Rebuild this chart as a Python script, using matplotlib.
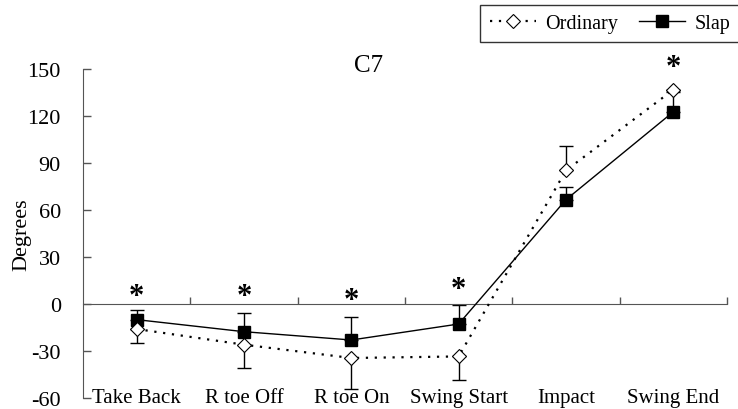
import numpy as np
import matplotlib.pyplot as plt
from matplotlib.lines import Line2D

plt.rcParams["font.family"] = ["Liberation Serif", "DejaVu Serif"]
plt.rcParams["axes.unicode_minus"] = False

phases = ["Take Back", "R toe Off", "R toe On", "Swing Start", "Impact", "Swing End"]
ordinary = [-16, -26, -34.5, -33.5, 85.3, 136.8]
slap = [-10, -17.7, -23, -12.8, 66.6, 122.7]
# one-sided SD bars: ordinary mostly downward, slap upward
ordinary_err_low = [9, 15, 19.5, 15, 0, 0]
ordinary_err_up = [0, 0, 0, 0, 15.7, 0]
slap_err_up = [6.2, 11.7, 15, 12.2, 8.3, 13]
sig = [True, True, True, True, False, True]
star_y = [5, 5, 2.5, 9, None, 151]

x = np.arange(len(phases))

fig = plt.figure(figsize=(7.38, 4.10), dpi=100)
ax = fig.add_axes([0.1125, 0.027, 0.8725, 0.802])

ax.errorbar(x, ordinary, yerr=[ordinary_err_low, ordinary_err_up], fmt="none",
            ecolor="black", elinewidth=1, capsize=5, capthick=1, zorder=2)
ax.errorbar(x, slap, yerr=[np.zeros(len(x)), slap_err_up], fmt="none",
            ecolor="black", elinewidth=1, capsize=5, capthick=1, zorder=2)

ax.plot(x, ordinary, linestyle=(0, (1, 3)), color="black", linewidth=1.6,
        marker="D", markersize=7, markerfacecolor="white",
        markeredgecolor="black", markeredgewidth=0.8, zorder=4)
ax.plot(x, slap, linestyle="-", color="black", linewidth=1,
        marker="s", markersize=8, markerfacecolor="black",
        markeredgecolor="black", zorder=3)

for xi, s, sy in zip(x, sig, star_y):
    if s:
        ax.text(xi, sy, "*", ha="center", va="center", fontsize=22,
                fontweight="bold")

ax.set_xlim(-0.5, 5.5)
ax.set_ylim(-60, 150)
ax.set_yticks(np.arange(-60, 151, 30))
ax.tick_params(axis="y", direction="in", length=6, width=1, labelsize=16, pad=16)
ax.set_ylabel("Degrees", fontsize=16)
ax.yaxis.set_label_coords(-0.08, 0.5)

ax.spines["top"].set_visible(False)
ax.spines["right"].set_visible(False)
ax.spines["bottom"].set_position(("data", 0))
ax.spines["left"].set_color("#555555")
ax.spines["bottom"].set_color("#555555")
ax.set_xticks(np.arange(0.5, 6, 1))
ax.set_xticklabels([])
ax.tick_params(axis="x", direction="in", length=5, width=1, color="#555555")
ax.tick_params(axis="y", color="#555555")

for xi, lab in zip(x, phases):
    ax.text(xi, -60, lab, ha="center", va="center", fontsize=15)

fig.text(0.5, 0.838, "C7", ha="center", va="center", fontsize=18)

handles = [
    Line2D([], [], linestyle=(0, (1, 3)), color="black", linewidth=1.6,
           marker="D", markersize=7, markerfacecolor="white",
           markeredgecolor="black", markeredgewidth=0.8),
    Line2D([], [], linestyle="-", color="black", linewidth=1,
           marker="s", markersize=8, markerfacecolor="black"),
]
leg = fig.legend(handles, ["Ordinary", "Slap"], loc="upper right",
                 bbox_to_anchor=(1.007, 0.995), ncol=2, fontsize=14.5,
                 frameon=True, fancybox=False, handlelength=2.3,
                 columnspacing=1.05, handletextpad=0.45, borderpad=0.45,
                 borderaxespad=0.2)
leg.get_frame().set_edgecolor("black")
leg.get_frame().set_linewidth(1)

fig.savefig("out.png", dpi=100)
